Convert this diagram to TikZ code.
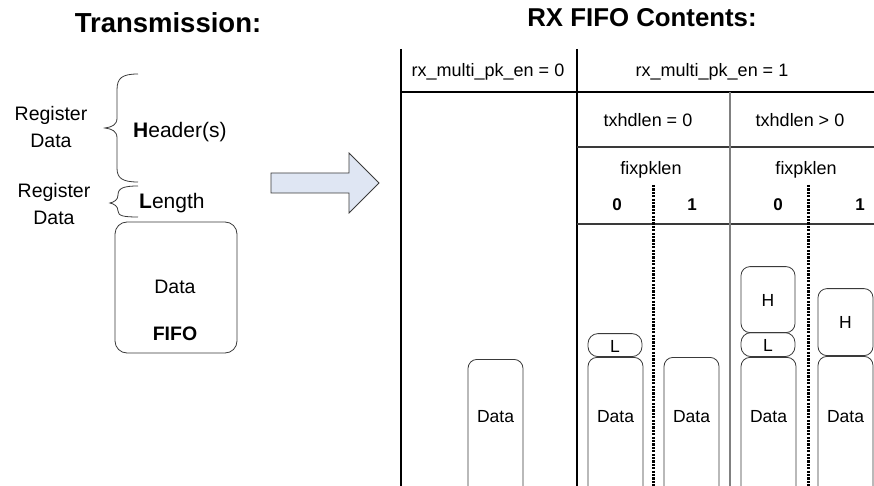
\documentclass[tikz,border=0pt]{standalone}
\usepackage{fontspec}
\setmainfont{Liberation Sans}
\definecolor{boxgray}{HTML}{3A3A3A}
\definecolor{linegray}{HTML}{808080}
\definecolor{arrowfill}{HTML}{DFE6F3}
\tikzset{
  rbox/.style={draw=boxgray, line width=0.8pt, rounded corners=9pt, inner sep=0pt, fill=white},
  lbox/.style={draw=boxgray, line width=0.8pt, rounded corners=10pt, inner sep=0pt, fill=white},
  txt/.style={inner sep=0pt, font=\fontsize{18}{20}\selectfont},
  dtxt/.style={inner sep=0pt, font=\fontsize{17.5}{19}\selectfont},
  btxt/.style={inner sep=0pt, font=\fontsize{17}{19}\selectfont\bfseries},
  ltxt/.style={inner sep=0pt, align=center, font=\fontsize{19.5}{27}\selectfont},
  title/.style={inner sep=0pt, font=\fontsize{27.5}{29}\selectfont\bfseries},
  thick line/.style={line width=2pt, black},
  mid line/.style={line width=1.4pt, boxgray},
  gray line/.style={line width=1.4pt, linegray},
  dot line/.style={line width=3pt, black, dash pattern=on 2.2pt off 1.2pt},
  brace/.style={draw=boxgray, line width=0.8pt},
}
\begin{document}
\begin{tikzpicture}[x=1pt,y=-1pt]
\useasboundingbox (0,0) rectangle (874,486);
\clip (0,0) rectangle (874,486);

% titles
\node[title] (t1) at (168,23) {Transmission:};
\node[title, font=\fontsize{25.8}{27}\selectfont\bfseries] (t2) at (642,18) {RX FIFO Contents:};

% left side: braces
\draw[brace] (138,74) .. controls (122,74) and (117,78) .. (117,90)
  -- (117,118) .. controls (117,125) and (112,127) .. (105,128)
  .. controls (112,129) and (117,131) .. (117,138)
  -- (117,168) .. controls (117,178) and (122,182) .. (138,182);
\draw[brace] (138,186) .. controls (124,186) and (118,188) .. (118,195)
  .. controls (118,200) and (114,202) .. (110,203)
  .. controls (114,204) and (118,206) .. (118,211)
  .. controls (118,216) and (124,217) .. (138,217);

\node[ltxt] (rd1) at (51,127) {Register\\Data};
\node[ltxt] (rd2) at (54,204) {Register\\Data};
\node[inner sep=0pt, anchor=base west, font=\fontsize{21}{23}\selectfont] (hdr) at (133,138) {\textbf{H}eader(s)};
\node[inner sep=0pt, anchor=base west, font=\fontsize{21}{23}\selectfont] (len) at (139,208) {\textbf{L}ength};

% FIFO box
\node[rbox, rounded corners=12pt, minimum width=122pt, minimum height=131pt] (fifo) at (176,287.5) {};
\node[ltxt] (fdata) at (175,287) {Data};
\node[ltxt, font=\fontsize{19.5}{21}\selectfont\bfseries] (ffifo) at (175,334) {FIFO};

% big arrow
\draw[draw=boxgray, line width=0.8pt, fill=arrowfill]
  (271,173) -- (349,173) -- (349,153) -- (379,183) -- (349,213) -- (349,193) -- (271,193) -- cycle;

% table lines
\coordinate (a1) at (401,49);
\coordinate (a2) at (401,486);
\coordinate (b1) at (577,49);
\coordinate (b2) at (577,486);
\coordinate (h1l) at (401,92);
\coordinate (h1r) at (874,92);
\coordinate (h2l) at (577,147);
\coordinate (h2r) at (874,147);
\coordinate (h3l) at (577,224);
\coordinate (h3r) at (874,224);
\coordinate (g1) at (730,92);
\coordinate (g2) at (730,486);
\coordinate (d1t) at (653,185);
\coordinate (d1b) at (653,486);
\coordinate (d2t) at (808,185);
\coordinate (d2b) at (808,486);
\draw[thick line] (a1) -- (a2);
\draw[thick line] (b1) -- (b2);
\draw[thick line] (h1l) -- (h1r);
\draw[mid line] (h2l) -- (h2r);
\draw[mid line] (h3l) -- (h3r);
\draw[gray line] (g1) -- (g2);
\draw[dot line] (d1t) -- (d1b);
\draw[dot line] (d2t) -- (d2b);

% table texts
\node[txt] (c0) at (488,72) {rx\_multi\_pk\_en = 0};
\node[txt] (c1) at (712,72) {rx\_multi\_pk\_en = 1};
\node[txt] (tx0) at (648,120) {txhdlen = 0};
\node[txt] (tx1) at (800,120) {txhdlen > 0};
\node[txt] (fx0) at (651,170) {fixpklen};
\node[txt] (fx1) at (806,170) {fixpklen};
\node[btxt] (z0) at (617,205) {0};
\node[btxt] (o0) at (692,205) {1};
\node[btxt] (z1) at (778,205) {0};
\node[btxt] (o1) at (860,205) {1};

% RX FIFO contents boxes
% col 1
\node[rbox, anchor=north, minimum width=55pt, minimum height=140pt] (D1) at (495.5,359) {};
% col 2
\node[rbox, anchor=north, minimum width=55pt, minimum height=140pt] (D2) at (615.5,357) {};
\node[lbox, anchor=south, minimum width=54pt, minimum height=23pt] (L2) at (615,357) {};
% col 3
\node[rbox, anchor=north, minimum width=55pt, minimum height=140pt] (D3) at (691.5,357) {};
% col 4
\node[rbox, anchor=north, minimum width=55pt, minimum height=140pt] (D4) at (768.5,357) {};
\node[lbox, anchor=south, minimum width=54pt, minimum height=24pt] (L4) at (768,357) {};
\node[rbox, anchor=south, minimum width=54pt, minimum height=66pt] (H4) at (768,333) {};
% col 5
\node[rbox, anchor=north, minimum width=55pt, minimum height=140pt] (D5) at (845.5,356) {};
\node[rbox, anchor=south, minimum width=55pt, minimum height=67pt] (H5) at (845.5,356) {};

\node[dtxt] (D1t) at (495.5,417) {Data};
\node[dtxt] (D2t) at (615.5,417) {Data};
\node[dtxt] (D3t) at (691.5,417) {Data};
\node[dtxt] (D4t) at (768.5,417) {Data};
\node[dtxt] (D5t) at (845.5,417) {Data};
\node[dtxt] (L2t) at (615,346) {L};
\node[dtxt] (L4t) at (768,345) {L};
\node[dtxt] (H4t) at (768,300) {H};
\node[dtxt] (H5t) at (845.5,322) {H};
\end{tikzpicture}
\end{document}
